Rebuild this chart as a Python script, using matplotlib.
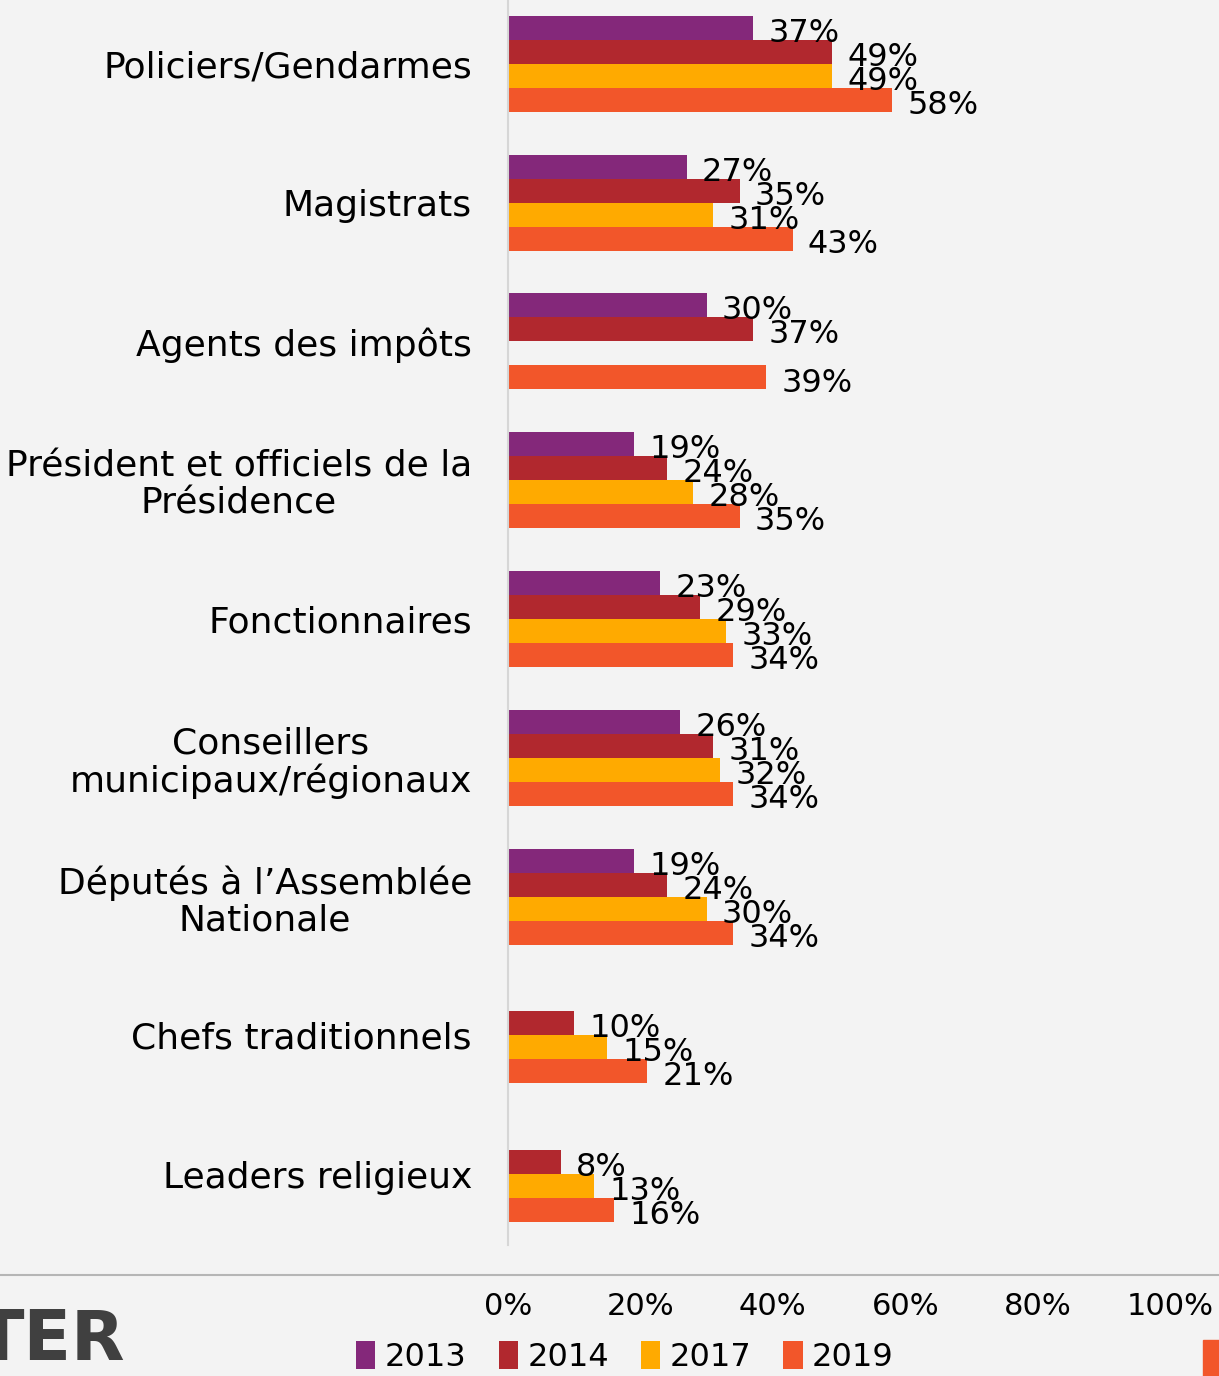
import numpy as np
import matplotlib.pyplot as plt
from matplotlib.patches import Patch, Rectangle
from matplotlib.lines import Line2D

plt.rcParams['font.family'] = ['DejaVu Sans']

# Data
categories = ['Policiers/Gendarmes', 'Magistrats', 'Agents des impôts',
              'Président et officiels de la\nPrésidence', 'Fonctionnaires',
              'Conseillers\nmunicipaux/régionaux',
              'Députés à l\u2019Assemblée\nNationale',
              'Chefs traditionnels', 'Leaders religieux']
years = ['2013', '2014', '2017', '2019']
v2013 = [37, 27, 30, 19, 23, 26, 19, None, None]
v2014 = [49, 35, 37, 24, 29, 31, 24, 10, 8]
v2017 = [49, 31, None, 28, 33, 32, 30, 15, 13]
v2019 = [58, 43, 39, 35, 34, 34, 34, 21, 16]
series = [v2013, v2014, v2017, v2019]
colors = ['#84287A', '#B1282E', '#FFAA00', '#F2562A']
ticks = [0, 20, 40, 60, 80, 100]

W, H = 1219, 1376
fig = plt.figure(figsize=(W / 100, H / 100), dpi=100, facecolor='#f3f3f3')
ax = fig.add_axes([508 / W, 1 - 1245 / H, (1170 - 508) / W, 1245 / H])
ax.set_facecolor('#f3f3f3')

h = 0.173
y = np.arange(len(categories))
for k, (vals, c) in enumerate(zip(series, colors)):
    off = (k - 1.5) * h
    for i, v in enumerate(vals):
        if v is None:
            continue
        ax.barh(y[i] + off, v, height=h, color=c, edgecolor='none')
        ax.annotate(f'{v}%', (v, y[i] + off), xytext=(11, -4),
                    textcoords='offset points', ha='left', va='center',
                    fontsize=23, color='black')

ax.set_xlim(0, 100)
ax.set_ylim(8.51, -0.46)
ax.set_yticks(y)
ax.set_yticklabels(categories, fontsize=26, multialignment='center',
                   linespacing=1.1)
ax.set_xticks(ticks)
ax.set_xticklabels([f'{t}%' for t in ticks], fontsize=22)
ax.tick_params(axis='y', length=0, pad=26)
ax.tick_params(axis='x', length=0, pad=34)
for s in ['top', 'right', 'bottom']:
    ax.spines[s].set_visible(False)
ax.spines['left'].set_color('#d6d6d6')
ax.spines['left'].set_linewidth(1.5)

# separator line
fig.add_artist(Line2D([0, 1], [1 - 1275 / H] * 2, color='#b5b5b5', lw=1.5,
                      transform=fig.transFigure))

# legend
handles = [Patch(facecolor=c, edgecolor='none') for c in colors]
fig.legend(handles, years, loc='center', bbox_to_anchor=(625 / W, 1 - 1357 / H),
           ncol=4, frameon=False, fontsize=23, handlelength=0.6, handleheight=1.0,
           handletextpad=0.3, columnspacing=1.0)

# logo fragment and accent
fig.text(125 / W, 1 - 1341 / H, 'TER', ha='right', va='center', fontsize=50,
         fontweight='bold', color='#404040', fontfamily=['Liberation Sans Narrow', 'DejaVu Sans'])
fig.add_artist(Rectangle((1203 / W, 0), 16 / W, 36 / H, color='#F2562A',
                         transform=fig.transFigure))

fig.savefig('out.png', dpi=100, facecolor=fig.get_facecolor())
